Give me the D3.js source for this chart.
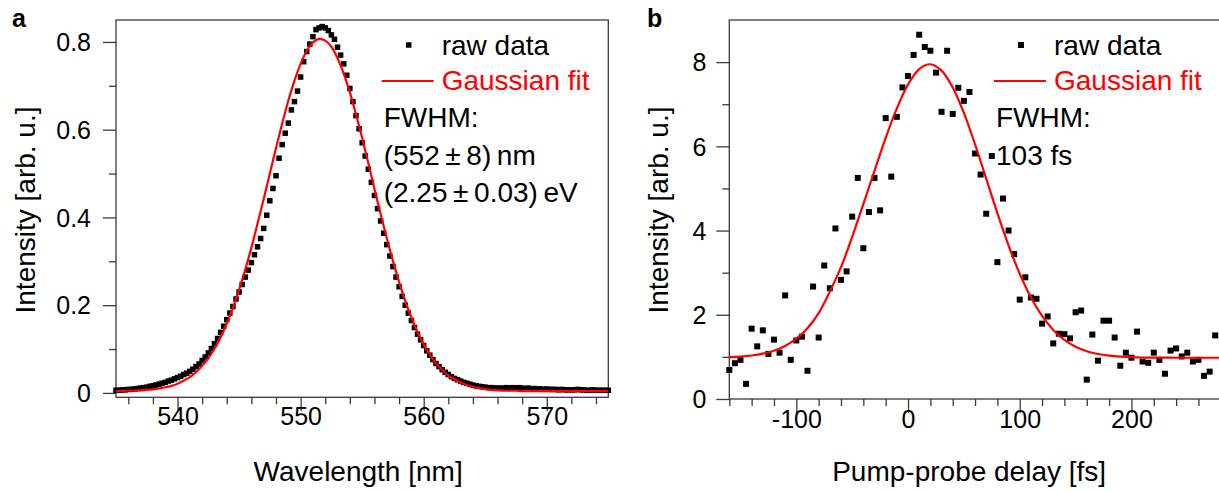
<!DOCTYPE html>
<html>
<head>
<meta charset="utf-8">
<script src="https://cdn.jsdelivr.net/npm/d3@7"></script>
<style>
  body { margin: 0; background: #fff; }
  svg { display: block; font-family: "Liberation Sans", Arial, sans-serif; }
  .axis line { stroke: #3a3a3a; stroke-width: 1.3; }
  .axis text { font-family: "Liberation Sans", Arial, sans-serif; font-size: 25px; fill: #000; }
  .label { font-size: 28px; fill: #000; }
</style>
</head>
<body>
<svg id="chart" width="1219" height="492"></svg>
<script>
// panel a: emission spectrum
var wavelength = [
  535, 535.25, 535.5, 535.75, 536, 536.25, 536.5, 536.75, 537, 537.25,
  537.5, 537.75, 538, 538.25, 538.5, 538.75, 539, 539.25, 539.5, 539.75,
  540, 540.25, 540.5, 540.75, 541, 541.25, 541.5, 541.75, 542, 542.25,
  542.5, 542.75, 543, 543.25, 543.5, 543.75, 544, 544.25, 544.5, 544.75,
  545, 545.25, 545.5, 545.75, 546, 546.25, 546.5, 546.75, 547, 547.25,
  547.5, 547.75, 548, 548.25, 548.5, 548.75, 549, 549.25, 549.5, 549.75,
  550, 550.25, 550.5, 550.75, 551, 551.25, 551.5, 551.75, 552, 552.25,
  552.5, 552.75, 553, 553.25, 553.5, 553.75, 554, 554.25, 554.5, 554.75,
  555, 555.25, 555.5, 555.75, 556, 556.25, 556.5, 556.75, 557, 557.25,
  557.5, 557.75, 558, 558.25, 558.5, 558.75, 559, 559.25, 559.5, 559.75,
  560, 560.25, 560.5, 560.75, 561, 561.25, 561.5, 561.75, 562, 562.25,
  562.5, 562.75, 563, 563.25, 563.5, 563.75, 564, 564.25, 564.5, 564.75,
  565, 565.25, 565.5, 565.75, 566, 566.25, 566.5, 566.75, 567, 567.25,
  567.5, 567.75, 568, 568.25, 568.5, 568.75, 569, 569.25, 569.5, 569.75,
  570, 570.25, 570.5, 570.75, 571, 571.25, 571.5, 571.75, 572, 572.25,
  572.5, 572.75, 573, 573.25, 573.5, 573.75, 574, 574.25, 574.5, 574.75,
  575
];
var spectrum = [
  0.006, 0.006, 0.007, 0.007, 0.008, 0.008, 0.009, 0.010, 0.011, 0.012,
  0.013, 0.015, 0.016, 0.018, 0.020, 0.022, 0.024, 0.027, 0.029, 0.032,
  0.035, 0.038, 0.042, 0.045, 0.049, 0.054, 0.060, 0.066, 0.074, 0.082,
  0.091, 0.101, 0.112, 0.124, 0.138, 0.152, 0.167, 0.182, 0.197, 0.214,
  0.230, 0.247, 0.264, 0.280, 0.297, 0.315, 0.333, 0.352, 0.375, 0.405,
  0.438, 0.466, 0.495, 0.535, 0.566, 0.592, 0.615, 0.645, 0.664, 0.688,
  0.720, 0.755, 0.778, 0.795, 0.812, 0.828, 0.832, 0.835, 0.832, 0.826,
  0.816, 0.806, 0.788, 0.770, 0.750, 0.724, 0.694, 0.664, 0.632, 0.602,
  0.570, 0.540, 0.510, 0.480, 0.450, 0.420, 0.392, 0.364, 0.338, 0.312,
  0.288, 0.264, 0.242, 0.220, 0.200, 0.182, 0.165, 0.149, 0.134, 0.121,
  0.108, 0.096, 0.086, 0.076, 0.067, 0.060, 0.053, 0.047, 0.042, 0.037,
  0.033, 0.030, 0.027, 0.024, 0.022, 0.020, 0.018, 0.016, 0.015, 0.014,
  0.013, 0.012, 0.012, 0.011, 0.011, 0.011, 0.011, 0.012, 0.011, 0.012,
  0.011, 0.012, 0.011, 0.010, 0.011, 0.009, 0.010, 0.009, 0.009, 0.008,
  0.009, 0.008, 0.008, 0.008, 0.007, 0.008, 0.007, 0.007, 0.007, 0.007,
  0.008, 0.007, 0.007, 0.006, 0.006, 0.007, 0.006, 0.006, 0.006, 0.006,
  0.006
];
var fitWavelength = [
  535, 535.5, 536, 536.5, 537, 537.5, 538, 538.5, 539, 539.5,
  540, 540.5, 541, 541.5, 542, 542.5, 543, 543.5, 544, 544.5,
  545, 545.5, 546, 546.5, 547, 547.5, 548, 548.5, 549, 549.5,
  550, 550.5, 551, 551.5, 552, 552.5, 553, 553.5, 554, 554.5,
  555, 555.5, 556, 556.5, 557, 557.5, 558, 558.5, 559, 559.5,
  560, 560.5, 561, 561.5, 562, 562.5, 563, 563.5, 564, 564.5,
  565, 565.5, 566, 566.5, 567, 567.5, 568, 568.5, 569, 569.5,
  570, 570.5, 571, 571.5, 572, 572.5, 573, 573.5, 574, 574.5,
  575
];
var spectrumFit = [
  0.004, 0.0045, 0.005, 0.005, 0.006, 0.007, 0.008, 0.010, 0.013, 0.016,
  0.021, 0.028, 0.036, 0.047, 0.062, 0.079, 0.101, 0.127, 0.158, 0.194,
  0.235, 0.281, 0.331, 0.386, 0.442, 0.500, 0.558, 0.614, 0.666, 0.712,
  0.750, 0.780, 0.799, 0.807, 0.803, 0.789, 0.763, 0.728, 0.685, 0.635,
  0.581, 0.524, 0.465, 0.408, 0.353, 0.301, 0.253, 0.210, 0.172, 0.139,
  0.111, 0.087, 0.068, 0.053, 0.040, 0.031, 0.024, 0.018, 0.014, 0.011,
  0.009, 0.007, 0.006, 0.005, 0.005, 0.005, 0.004, 0.004, 0.004, 0.004,
  0.004, 0.004, 0.004, 0.004, 0.004, 0.004, 0.004, 0.004, 0.004, 0.004,
  0.004
];

// panel b: pump-probe trace
var delay = [
  -160, -155, -150, -145, -140, -135, -130, -125, -120, -115,
  -110, -105, -100, -95, -90, -85, -80, -75, -70, -65,
  -60, -55, -50, -45, -40, -35, -30, -25, -20, -15,
  -10, -5, 0, 5, 10, 15, 20, 25, 30, 35,
  40, 45, 50, 55, 60, 65, 70, 75, 80, 85,
  90, 95, 100, 105, 110, 115, 120, 125, 130, 135,
  140, 145, 150, 155, 160, 165, 170, 175, 180, 185,
  190, 195, 200, 205, 210, 215, 220, 225, 230, 235,
  240, 245, 250, 255, 260, 265, 270, 275
];
var signal = [
  0.69, 0.85, 0.93, 0.36, 1.67, 1.25, 1.63, 1.07, 1.41, 1.10,
  2.46, 0.93, 1.39, 1.48, 0.67, 2.67, 1.46, 3.17, 2.63, 4.05,
  2.83, 3.03, 4.33, 5.25, 3.58, 4.44, 5.25, 4.48, 6.67, 5.28,
  6.70, 7.40, 7.67, 8.17, 8.65, 8.36, 8.27, 7.75, 6.82, 8.27,
  6.77, 7.39, 7.08, 7.29, 5.83, 5.33, 4.40, 5.77, 3.25, 4.76,
  4.00, 3.44, 2.36, 2.89, 2.41, 2.38, 1.79, 1.96, 1.32, 1.55,
  1.54, 1.44, 2.06, 2.10, 0.46, 1.53, 0.91, 1.86, 1.86, 1.46,
  0.79, 1.10, 0.98, 1.60, 0.89, 0.86, 1.10, 0.93, 0.60, 1.15,
  1.20, 1.01, 1.10, 0.89, 0.93, 0.55, 0.65, 1.51
];
var fitDelay = [
  -160, -150, -140, -130, -120, -110, -100, -90, -80, -70,
  -60, -50, -40, -30, -20, -10, 0, 10, 20, 30,
  40, 50, 60, 70, 80, 90, 100, 110, 120, 130,
  140, 150, 160, 170, 180, 190, 200, 210, 220, 230,
  240, 250, 260, 270, 280
];
var signalFit = [
  0.994, 1.008, 1.033, 1.076, 1.147, 1.260, 1.432, 1.681, 2.040, 2.550,
  3.130, 3.850, 4.630, 5.420, 6.200, 6.900, 7.468, 7.835, 7.949, 7.798,
  7.399, 6.795, 6.049, 5.232, 4.413, 3.647, 2.973, 2.414, 1.972, 1.641,
  1.403, 1.241, 1.135, 1.068, 1.029, 1.006, 0.993, 0.986, 0.983, 0.981,
  0.980, 0.980, 0.980, 0.980, 0.980
];

var frameColor = '#3a3a3a';
var fitColor = '#ff0000';

var svg = d3.select('#chart');

// plain hyphen for negatives, as in the original figure
function plainInt(d) { return String(d); }

function drawPanel(cfg) {
  var g = svg.append('g');
  var x = d3.scaleLinear().domain(cfg.xDomain).range(cfg.xRange);
  var y = d3.scaleLinear().domain(cfg.yDomain).range(cfg.yRange);
  var bottom = cfg.yRange[0], top = cfg.yRange[1];
  var left = cfg.xRange[0], right = cfg.xRange[1];

  g.append('rect')
      .attr('x', left).attr('y', top)
      .attr('width', right - left).attr('height', bottom - top)
      .attr('fill', 'none')
      .attr('stroke', frameColor)
      .attr('stroke-width', 1.3);

  // x axis: minor then major ticks
  g.append('g').attr('class', 'axis')
      .attr('transform', 'translate(0,' + bottom + ')')
      .call(d3.axisBottom(x).tickValues(cfg.xMinor).tickSize(7).tickSizeOuter(0).tickFormat(''))
      .call(function(a) { a.select('.domain').remove(); });
  g.append('g').attr('class', 'axis')
      .attr('transform', 'translate(0,' + bottom + ')')
      .call(d3.axisBottom(x).tickValues(cfg.xMajor).tickSize(14).tickSizeOuter(0).tickFormat(cfg.xFormat))
      .call(function(a) {
        a.select('.domain').remove();
        a.selectAll('text').attr('y', cfg.xLabelY).attr('dy', null);
      });

  // y axis
  g.append('g').attr('class', 'axis')
      .attr('transform', 'translate(' + left + ',0)')
      .call(d3.axisLeft(y).tickValues(cfg.yMinor).tickSize(7).tickSizeOuter(0).tickFormat(''))
      .call(function(a) { a.select('.domain').remove(); });
  g.append('g').attr('class', 'axis')
      .attr('transform', 'translate(' + left + ',0)')
      .call(d3.axisLeft(y).tickValues(cfg.yMajor).tickSize(13).tickSizeOuter(0).tickFormat(cfg.yFormat))
      .call(function(a) {
        a.select('.domain').remove();
        a.selectAll('text').attr('x', -cfg.yLabelGap).attr('dy', '0.35em');
      });

  // raw data squares
  var s = cfg.marker;
  g.append('g').selectAll('rect')
      .data(cfg.xs)
    .enter().append('rect')
      .attr('x', function(d) { return x(d) - s / 2; })
      .attr('y', function(d, i) { return y(cfg.ys[i]) - s / 2; })
      .attr('width', s).attr('height', s)
      .attr('fill', '#000');

  // fit curve
  var line = d3.line()
      .x(function(d) { return x(d); })
      .y(function(d, i) { return y(cfg.fitYs[i]); })
      .curve(d3.curveCatmullRom);
  g.append('path')
      .attr('d', line(cfg.fitXs))
      .attr('fill', 'none')
      .attr('stroke', fitColor)
      .attr('stroke-width', 2.2);

  // axis titles
  g.append('text').attr('class', 'label')
      .attr('x', (left + Math.min(right, 1219)) / 2 + cfg.xTitleShift)
      .attr('y', 481)
      .attr('text-anchor', 'middle')
      .text(cfg.xTitle);
  g.append('text').attr('class', 'label')
      .attr('transform', 'translate(' + cfg.yTitleX + ',210) rotate(-90)')
      .attr('text-anchor', 'middle')
      .text(cfg.yTitle);

  // panel letter
  g.append('text')
      .attr('x', cfg.letterX).attr('y', 27)
      .attr('font-size', 25).attr('font-weight', 'bold')
      .text(cfg.letter);

  // legend
  var lg = g.append('g');
  lg.append('rect')
      .attr('x', cfg.legendX - 33 - s / 2).attr('y', 45 - s / 2)
      .attr('width', s).attr('height', s).attr('fill', '#000');
  lg.append('text').attr('class', 'label')
      .attr('x', cfg.legendX).attr('y', 55).text('raw data');
  lg.append('line')
      .attr('x1', cfg.legendX - 60).attr('x2', cfg.legendX - 8)
      .attr('y1', 81).attr('y2', 81)
      .attr('stroke', fitColor).attr('stroke-width', 2.2);
  lg.append('text').attr('class', 'label')
      .attr('x', cfg.legendX).attr('y', 90)
      .style('fill', fitColor)
      .text('Gaussian fit');
  cfg.notes.forEach(function(t, i) {
    lg.append('text').attr('class', 'label')
        .attr('x', cfg.legendX - 58).attr('y', 127 + i * 37.5)
        .text(t);
  });
}

drawPanel({
  letter: 'a', letterX: 12,
  xs: wavelength, ys: spectrum,
  fitXs: fitWavelength, fitYs: spectrumFit,
  xDomain: [535, 575], xRange: [116, 608.3],
  yDomain: [-0.01, 0.85], yRange: [397.3, 20],
  xMajor: [540, 550, 560, 570],
  xMinor: [536, 538, 542, 544, 546, 548, 552, 554, 556, 558, 562, 564, 566, 568, 572, 574],
  yMajor: [0, 0.2, 0.4, 0.6, 0.8],
  yMinor: [0.1, 0.3, 0.5, 0.7],
  xFormat: plainInt,
  yFormat: function(d) { return d === 0 ? '0' : d3.format('.1f')(d); },
  xLabelY: 28, yLabelGap: 25,
  marker: 5.5,
  xTitle: 'Wavelength [nm]', xTitleShift: -4,
  yTitle: 'Intensity [arb. u.]', yTitleX: 35,
  legendX: 441.7,
  notes: ['FWHM:', '(552\u2009\u00b1\u20098)\u2009nm', '(2.25\u2009\u00b1\u20090.03)\u2009eV']
});

drawPanel({
  letter: 'b', letterX: 647,
  xs: delay, ys: signal,
  fitXs: fitDelay, fitYs: signalFit,
  xDomain: [-160, 280], xRange: [729.3, 1220.8],
  yDomain: [0, 9], yRange: [399, 20],
  xMajor: [-100, 0, 100, 200],
  xMinor: [-160, -140, -120, -80, -60, -40, -20, 20, 40, 60, 80, 120, 140, 160, 180, 220, 240, 260, 280],
  yMajor: [0, 2, 4, 6, 8],
  yMinor: [1, 3, 5, 7],
  xFormat: plainInt,
  yFormat: plainInt,
  xLabelY: 29, yLabelGap: 23,
  marker: 6,
  xTitle: 'Pump-probe delay [fs]', xTitleShift: -5,
  yTitle: 'Intensity [arb. u.]', yTitleX: 668,
  legendX: 1054,
  notes: ['FWHM:', '103 fs']
});
</script>
</body>
</html>
